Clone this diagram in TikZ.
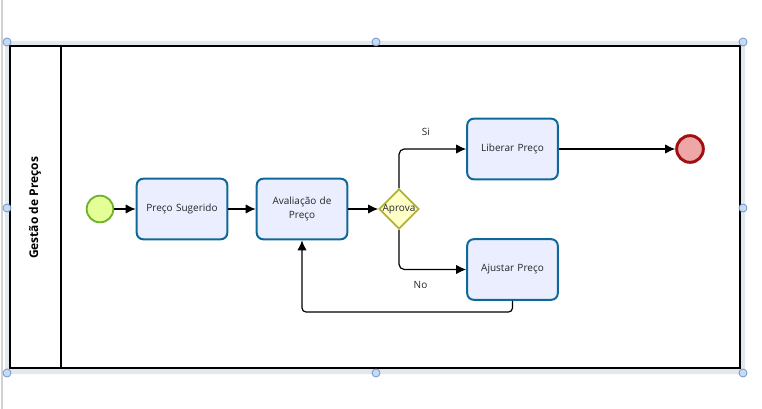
\documentclass[tikz,border=0pt]{standalone}
\usepackage{fontspec}
\setmainfont{Open Sans}
\usetikzlibrary{arrows.meta,shapes.geometric,calc}
\definecolor{taskfill}{RGB}{234,238,254}
\definecolor{taskline}{RGB}{16,104,154}
\definecolor{startfill}{RGB}{228,255,150}
\definecolor{startline}{RGB}{112,178,40}
\definecolor{gatefill}{RGB}{255,255,200}
\definecolor{gateline}{RGB}{178,178,58}
\definecolor{endfill}{RGB}{238,166,166}
\definecolor{endline}{RGB}{160,16,16}
\definecolor{selband}{RGB}{226,232,240}
\definecolor{handlefill}{RGB}{200,218,242}
\definecolor{handleline}{RGB}{112,150,205}
\tikzset{>={Latex[length=7.5pt,width=7pt]}}
\tikzset{
	task/.style={draw=taskline,fill=taskfill,line width=1.5pt,rounded corners=5pt,minimum width=68pt,minimum height=45.5pt,text width=60pt,align=center,font=\fontsize{7.5}{10}\selectfont,text=black!85},
	startev/.style={circle,draw=startline,fill=startfill,line width=1.4pt,minimum size=20pt,inner sep=0pt},
	endev/.style={circle,draw=endline,fill=endfill,line width=2.2pt,minimum size=20pt,inner sep=0pt},
	gate/.style={diamond,draw=gateline,fill=gatefill,line width=1.3pt,minimum width=30pt,minimum height=30pt,inner sep=0pt},
	flow/.style={->,line width=0.9pt},
	flowlabel/.style={font=\fontsize{7.5}{10}\selectfont,text=black!85},
	handle/.style={circle,draw=handleline,fill=handlefill,line width=0.6pt,minimum size=6pt,inner sep=0pt}
}
\begin{document}
\begin{tikzpicture}[x=0.75pt,y=-0.75pt]
		\useasboundingbox (0,0) rectangle (762,409);
		\draw[gray!35,line width=0.8pt] (2,0) -- (2,409);
		\fill[selband,even odd rule] (5,41) rectangle (745,374) (10,46) rectangle (740,368);
		\draw[line width=1pt] (10,46) rectangle (740,368);
		\draw[line width=1pt] (61,46) -- (61,368);
		\node[rotate=90,font=\fontsize{9}{11}\selectfont\bfseries] (carril) at (35,208) {Gestão de Preços};
		\foreach \hx/\hy [count=\i] in {7/42,376/42,743/42,7/208,743/208,7/373,376/373,743/373}
			\node[handle] (h\i) at (\hx,\hy) {};
		\node[startev] (inicio) at (100,209) {};
		\node[task] (sugerido) at (182,209) {Preço Sugerido};
		\node[task] (avaliacao) at (302,209) {Avaliação de\\Preço};
		\node[gate] (aprova) at (399,209) {};
		\node[flowlabel,inner sep=0pt] (aprovatxt) at (aprova) {Aprova};
		\node[task] (liberar) at (512.5,149) {Liberar Preço};
		\node[task] (ajustar) at (512.5,269.5) {Ajustar Preço};
		\node[endev] (fim) at (690,149) {};
		\coordinate (retorno) at (302,312);
		\draw[flow] (inicio) -- (sugerido);
		\draw[flow] (sugerido) -- (avaliacao);
		\draw[flow] (avaliacao) -- (aprova);
		\draw[flow,rounded corners=4pt] (aprova.north) |- node[flowlabel,pos=0.7,above=6pt]{Si} (liberar.west);
		\draw[flow,rounded corners=4pt] (aprova.south) |- node[flowlabel,pos=0.66,below=5pt]{No} (ajustar.west);
		\draw[flow] (liberar) -- (fim);
		\draw[flow,rounded corners=3pt] (ajustar.south) |- (retorno) -- (avaliacao.south);
	\end{tikzpicture}
\end{document}
